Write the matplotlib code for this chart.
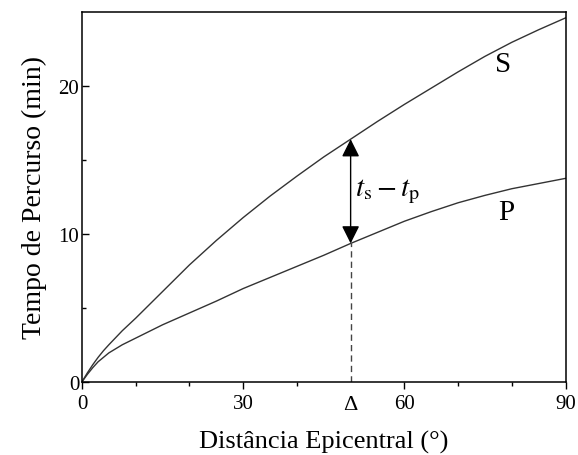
import matplotlib.pyplot as plt
import numpy as np

# travel-time curves (minutes) vs epicentral distance (degrees)
dist = [0, 1, 2, 3, 4, 5, 7.5, 10, 12.5, 15, 17.5, 20, 25, 30, 35, 40, 45,
        50, 55, 60, 65, 70, 75, 80, 85, 90]
t_s = [0, 0.6, 1.15, 1.65, 2.1, 2.5, 3.45, 4.3, 5.2, 6.1, 7.0, 7.9, 9.55,
       11.1, 12.55, 13.9, 15.2, 16.4, 17.6, 18.75, 19.85, 20.95, 22.0,
       22.95, 23.8, 24.6]
t_p = [0, 0.5, 0.95, 1.35, 1.65, 1.95, 2.5, 2.95, 3.4, 3.85, 4.25, 4.65,
       5.45, 6.3, 7.05, 7.8, 8.55, 9.35, 10.1, 10.85, 11.5, 12.1, 12.6,
       13.05, 13.4, 13.75]
delta = 50

xticks = [0, 30, 60, 90]
yticks = [0, 10, 20]

plt.rcParams['font.family'] = ['Liberation Serif', 'DejaVu Serif']
plt.rcParams['mathtext.fontset'] = 'stix'

fig = plt.figure(figsize=(5.78, 4.56), dpi=100)
ax = fig.add_axes([0.1419, 0.1607, 0.8365, 0.8108])

ax.plot(dist, t_s, color='#333333', lw=1.0)
ax.plot(dist, t_p, color='#333333', lw=1.0)

ts_d = np.interp(delta, dist, t_s)
tp_d = np.interp(delta, dist, t_p)

# dashed drop from the P curve to the axis
ax.plot([delta, delta], [0, tp_d], color='#444444', lw=1.0, ls=(0, (4.5, 3)))

# double arrow for the S-P time difference
ax.annotate('', xy=(delta, ts_d), xytext=(delta, tp_d),
            arrowprops=dict(arrowstyle='<|-|>', color='black', lw=1.0,
                            mutation_scale=27, shrinkA=0, shrinkB=0))

ax.text(delta + 0.8, 12.9, r'$t_{\rm s} - t_{\rm p}$',
        fontsize=21, va='center', ha='left')
ax.text(78.3, 21.45, 'S', fontsize=21, ha='center', va='center')
ax.text(78.9, 11.5, 'P', fontsize=21, ha='center', va='center')

ax.set_xlim(0, 90)
ax.set_ylim(0, 25)
ax.set_xticks(xticks)
ax.set_xticks([10, 20, 40, 70, 80], minor=True)
ax.set_yticks(yticks)
ax.set_yticks([5, 15], minor=True)
ax.tick_params(axis='x', direction='out', length=5, width=1, labelsize=15, pad=4)
ax.tick_params(axis='x', which='minor', direction='out', length=3, width=1)
ax.tick_params(axis='y', direction='in', length=5, width=1, labelsize=15, pad=2)
ax.tick_params(axis='y', which='minor', direction='in', length=3, width=1)

ax.text(delta, -0.035, 'Δ', transform=ax.get_xaxis_transform(),
        ha='center', va='top', fontsize=16)

for sp in ax.spines.values():
    sp.set_linewidth(1.1)

ax.set_xlabel('Distância Epicentral (°)', fontsize=19, labelpad=12)
ax.set_ylabel('Tempo de Percurso (min)', fontsize=20, labelpad=8)

fig.savefig('out.png', dpi=100)
